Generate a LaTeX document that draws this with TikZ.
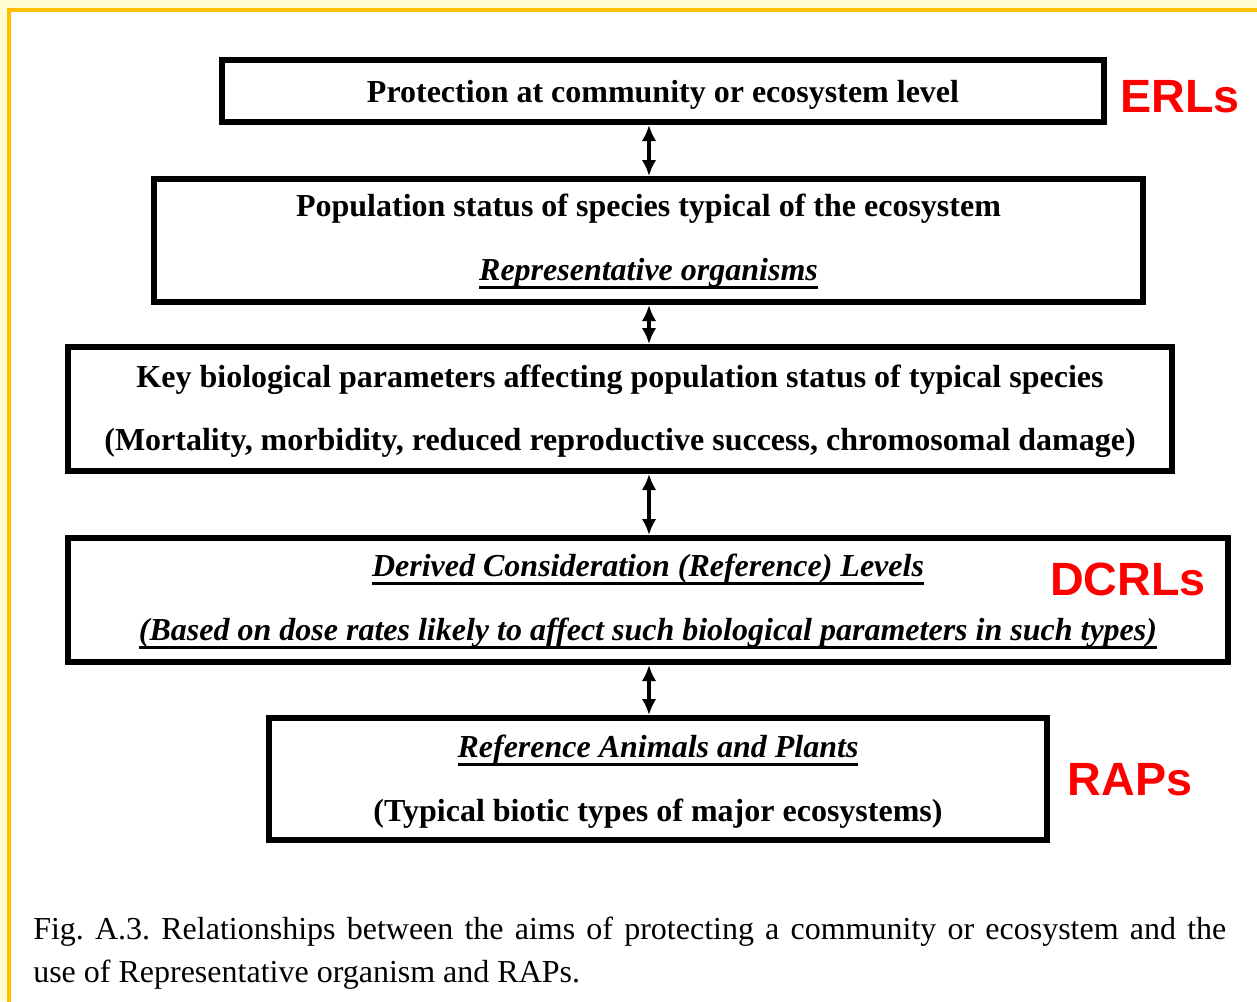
\documentclass[tikz,border=0pt]{standalone}
\usepackage{fontspec}
\setmainfont{Liberation Serif}
\newfontfamily\labfont{Liberation Sans}
\usetikzlibrary{arrows.meta}
\definecolor{paleyel}{HTML}{FFFDD0}
\definecolor{goldline}{HTML}{FFC000}
\definecolor{labred}{HTML}{FF0000}
\newcommand\myul[1]{\setbox0\hbox{#1}\rlap{\rule[-6.5pt]{\wd0}{1.8pt}}\box0}
\frenchspacing
\begin{document}
\begin{tikzpicture}[x=0.75pt,y=-0.75pt,
  frame/.style={draw=black,line width=4.5pt,fill=white,inner sep=0pt},
  txt/.style={anchor=base,inner sep=0pt,font=\fontsize{24}{28}\selectfont\bfseries},
  lab/.style={anchor=base,inner sep=0pt,text=labred,font=\fontsize{35}{40}\selectfont\labfont\bfseries},
  capt/.style={anchor=base west,inner sep=0pt,font=\fontsize{24}{30}\selectfont},
  link/.style={line width=3.5pt,{Latex[length=12pt,width=11pt]}-{Latex[length=12pt,width=11pt]}}]
\useasboundingbox (0,0) rectangle (1257,1001);
\clip (0,0) rectangle (1257,1001);
\fill[paleyel] (0,0) rectangle (1257,1001);
\fill[white] (9,9.5) rectangle (1270,1015);
\draw[goldline,line width=3pt] (9,1015) -- (9,9.5) -- (1270,9.5);

% boxes
\node[frame,minimum width=661.5pt,minimum height=46.5pt] (b1) at (663,91) {};
\node[frame,minimum width=741.75pt,minimum height=92.25pt] (b2) at (648.5,240.5) {};
\node[frame,minimum width=828pt,minimum height=93pt] (b3) at (620,409) {};
\node[frame,minimum width=870pt,minimum height=93pt] (b4) at (648,600) {};
\node[frame,minimum width=583.5pt,minimum height=91.5pt] (b5) at (658,779) {};

% texts
\node[txt] (t1) at (663,102) {Protection at community or ecosystem level};
\node[txt] (t2a) at (648.5,216) {Population status of species typical of the ecosystem};
\node[txt] (t2b) at (648.5,280) {\myul{\itshape Representative organisms}};
\node[txt] (t3a) at (620,387) {Key biological parameters affecting population status of typical species};
\node[txt] (t3b) at (620,450) {(Mortality, morbidity, reduced reproductive success, chromosomal damage)};
\node[txt] (t4a) at (648,576) {\myul{\itshape Derived Consideration (Reference) Levels}};
\node[txt] (t4b) at (648,640) {\myul{\itshape (Based on dose rates likely to affect such biological parameters in such types)}};
\node[txt] (t5a) at (658,757) {\myul{\itshape Reference Animals and Plants}};
\node[txt] (t5b) at (658,821) {(Typical biotic types of major ecosystems)};

% connectors
\coordinate (ax) at (649,0);
\draw[link] (b1.south -| ax) -- (b2.north -| ax);
\draw[link] (b2.south -| ax) -- (b3.north -| ax);
\draw[link] (b3.south -| ax) -- (b4.north -| ax);
\draw[link] (b4.south -| ax) -- (b5.north -| ax);

% labels
\node[lab] (l1) at (1180,112) {ERLs};
\node[lab] (l2) at (1128,595) {DCRLs};
\node[lab] (l3) at (1130,795) {RAPs};

% caption
\node[capt] (c1) at (33,939) {\makebox[894.75pt][s]{Fig. A.3. Relationships between the aims of protecting a community or ecosystem and the}};
\node[capt] (c2) at (33,982) {use of Representative organism and RAPs.};
\end{tikzpicture}
\end{document}
